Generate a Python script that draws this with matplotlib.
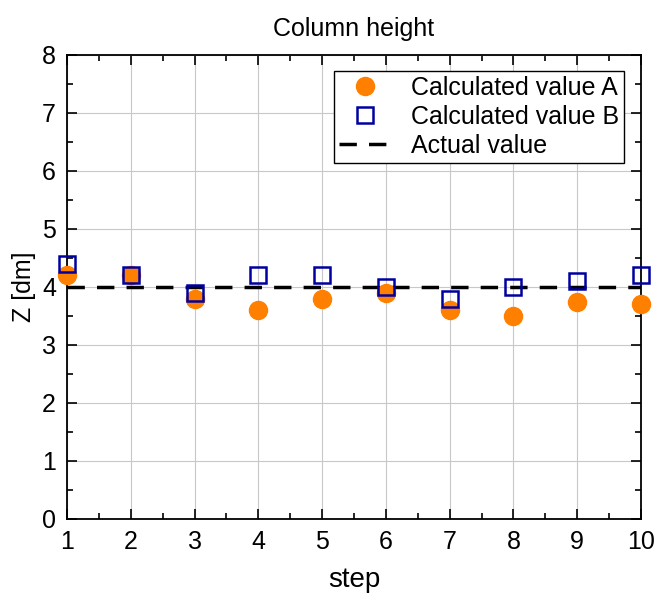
import matplotlib
matplotlib.use("Agg")
import matplotlib.pyplot as plt
from matplotlib.ticker import MultipleLocator

plt.rcParams['font.family'] = ['Liberation Sans', 'DejaVu Sans']

steps = [1, 2, 3, 4, 5, 6, 7, 8, 9, 10]
calc_a = [4.2, 4.2, 3.8, 3.6, 3.8, 3.9, 3.6, 3.5, 3.75, 3.7]
calc_b = [4.4, 4.2, 3.9, 4.2, 4.2, 4.0, 3.8, 4.0, 4.1, 4.2]
actual = 4.0

fig = plt.figure(figsize=(6.57, 5.94), dpi=100)
ax = fig.add_axes([67 / 657, 1 - 519 / 594, (641 - 67) / 657, (519 - 55) / 594])

ax.grid(True, color='#c8c8c8', linewidth=0.8, zorder=0)
ax.plot(steps, calc_a, 'o', color='#ff8000', markersize=13, label='Calculated value A',
        zorder=3, clip_on=False)
ax.plot(steps, calc_b, 's', color='#0000a0', markerfacecolor='none', markeredgewidth=1.8,
        markersize=11, label='Calculated value B', zorder=4, clip_on=False)
ax.axhline(actual, color='black', linestyle=(0, (5, 3.5)), linewidth=2.5,
           label='Actual value', zorder=2)

ax.set_xlim(1, 10)
ax.set_ylim(0, 8)
ax.xaxis.set_major_locator(MultipleLocator(1))
ax.xaxis.set_minor_locator(MultipleLocator(0.5))
ax.yaxis.set_major_locator(MultipleLocator(1))
ax.yaxis.set_minor_locator(MultipleLocator(0.5))
ax.tick_params(which='both', direction='in', top=True, right=True, width=1.2, labelsize=18)
ax.tick_params(which='major', length=7, pad=8)
ax.tick_params(which='minor', length=4)
for sp in ax.spines.values():
    sp.set_linewidth(1.3)

ax.set_title('Column height', fontsize=18, pad=14)
ax.set_xlabel('step', fontsize=20, labelpad=9)
ax.set_ylabel('Z [dm]', fontsize=18, labelpad=4)

leg = ax.legend(loc='upper right', fontsize=18, frameon=True, fancybox=False,
                edgecolor='black', framealpha=1, borderpad=0.2, labelspacing=0.2,
                handlelength=2.1, handletextpad=0.8, bbox_to_anchor=(0.993, 0.993))
leg.get_frame().set_linewidth(1.0)

fig.savefig('out.png', dpi=100)
